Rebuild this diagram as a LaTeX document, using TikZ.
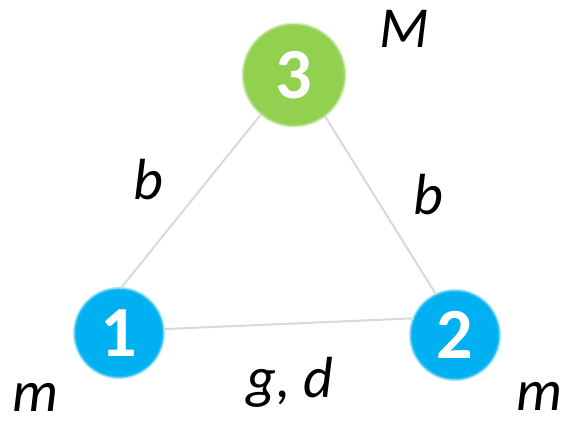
\documentclass[tikz,border=0pt]{standalone}
\usepackage{fontspec}
\setmainfont{Carlito}
\usetikzlibrary{positioning}
\definecolor{NodeBlue}{RGB}{0,176,240}
\definecolor{NodeGreen}{RGB}{146,208,80}
\definecolor{EdgeGray}{RGB}{217,217,217}

\begin{document}
\begin{tikzpicture}[
      x=1pt, y=-1pt,
      ball/.style={circle, fill=#1, draw=#1!70, line width=3pt, draw opacity=0.5, inner sep=0pt, outer sep=0pt, text=white, font=\fontsize{72}{72}\selectfont\bfseries},
      small/.style={ball=NodeBlue, minimum size=89pt},
      big/.style={ball=NodeGreen, minimum size=102pt},
      edge/.style={draw=EdgeGray, line width=2pt},
      lbl/.style={inner sep=0pt, font=\fontsize{58}{58}\selectfont\itshape}
    ]
    \useasboundingbox (0,0) rectangle (566,425);
    % Masses
    \node[big] (n3) at (294,75) {3};
    \node[small] (n1) at (119,333) {1};
    \node[small] (n2) at (455,335) {2};

    % Springs between the masses
    \draw[edge] (n3.230) -- (n1.88);
    \draw[edge] (n3.307) -- (n2.115);
    \draw[edge] (n1.5) -- (n2.158);

    % Labels
    \node[lbl] (lM) at (404,29) {M};
    \node[lbl] (lb1) at (148,180) {b};
    \node[lbl] (lb2) at (428,195) {b};
    \node[lbl] (lm1) at (35,397) {m};
    \node[lbl] (lgd) at (290,382) {g, d};
    \node[lbl] (lm2) at (539,396) {m};
\end{tikzpicture}
\end{document}
